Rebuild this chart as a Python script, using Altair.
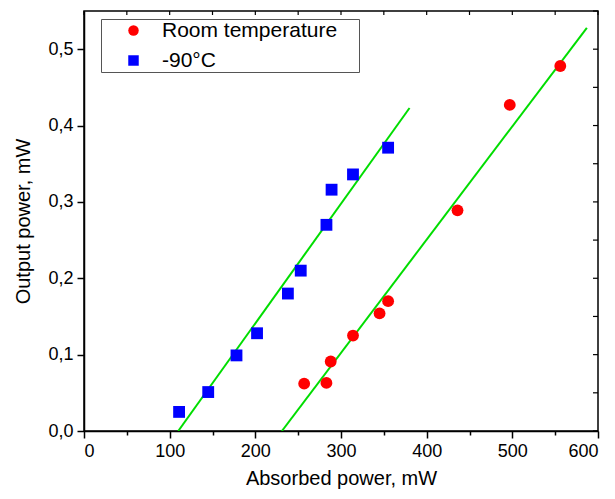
import altair as alt
import pandas as pd

# Room temperature (red circles)
rt_x = [257, 283, 288, 314, 345, 355, 436, 497, 556]
rt_y = [0.062, 0.063, 0.091, 0.125, 0.154, 0.170, 0.289, 0.427, 0.478]

# -90 C (blue squares)
lt_x = [111, 145, 178, 202, 238, 253, 283, 289, 314, 355]
lt_y = [0.025, 0.051, 0.099, 0.128, 0.180, 0.210, 0.270, 0.316, 0.336, 0.371]

# linear fit lines (endpoints)
fit_rt_x = [231, 587]
fit_rt_y = [0.0, 0.528]
fit_lt_x = [110, 380]
fit_lt_y = [0.0, 0.423]

x_ticks = list(range(0, 601, 50))
y_ticks = [0.0, 0.05, 0.1, 0.15, 0.2, 0.25, 0.3, 0.35, 0.4, 0.45, 0.5, 0.55]

s_rt = "Room temperature"
s_lt = "-90\u00b0C"

pts = pd.DataFrame({
    "x": rt_x + lt_x,
    "y": rt_y + lt_y,
    "series": [s_rt] * len(rt_x) + [s_lt] * len(lt_x),
})
fits = pd.DataFrame({
    "x": fit_rt_x + fit_lt_x,
    "y": fit_rt_y + fit_lt_y,
    "fit": ["rt"] * 2 + ["lt"] * 2,
})

W, H = 514, 420
xscale = alt.Scale(domain=[0, 600], nice=False)
yscale = alt.Scale(domain=[0, 0.55], nice=False)

x_axis = alt.Axis(
    values=x_ticks,
    labelExpr="datum.value % 100 === 0 ? datum.label : ''",
    tickSize={"condition": {"test": "datum.value % 100 === 0", "value": 7}, "value": 4},
    grid=False,
    title="Absorbed power, mW",
    titlePadding=8,
)
y_axis = alt.Axis(
    values=y_ticks,
    labelExpr="(round(datum.value*100) % 10 === 0) ? replace(format(datum.value, '.1f'), '.', ',') : ''",
    tickSize={"condition": {"test": "round(datum.value*100) % 10 === 0", "value": 7}, "value": 4},
    grid=False,
    title="Output power, mW",
    titlePadding=14,
)

lines = alt.Chart(fits).mark_line(color="#00dd00", strokeWidth=2, clip=True).encode(
    x=alt.X("x:Q", scale=xscale, axis=x_axis),
    y=alt.Y("y:Q", scale=yscale, axis=y_axis),
    detail="fit:N",
)

points = alt.Chart(pts).mark_point(filled=True, opacity=1, size=140).encode(
    x=alt.X("x:Q", scale=xscale),
    y=alt.Y("y:Q", scale=yscale),
    color=alt.Color("series:N", scale=alt.Scale(domain=[s_rt, s_lt], range=["#ff0000", "#0000ff"]),
                    legend=alt.Legend(title=None, orient="none", legendX=17, legendY=8,
                                      strokeColor="#555555", padding=1, symbolOffset=21,
                                      labelOffset=18, labelFontSize=21, labelFont="Liberation Sans",
                                      labelLimit=400,
                                      labelExpr="datum.label + '\u00a0\u2800'",
                                      symbolSize=110, rowPadding=8, labelColor="black")),
    shape=alt.Shape("series:N", scale=alt.Scale(domain=[s_rt, s_lt], range=["circle", "square"])),
)

top_ticks = alt.Chart(pd.DataFrame({"v": x_ticks})).mark_rule(color="black", strokeWidth=1.2).encode(
    x=alt.X("v:Q", scale=xscale), y=alt.value(0), y2=alt.value(4)
)
right_ticks = alt.Chart(pd.DataFrame({"v": y_ticks})).mark_rule(color="black", strokeWidth=1.2).encode(
    y=alt.Y("v:Q", scale=yscale), x=alt.value(W), x2=alt.value(W - 5)
)

chart = alt.layer(lines, points, top_ticks, right_ticks).properties(
    width=W, height=H,
    autosize=alt.AutoSizeParams(type="none"),
    padding={"left": 76, "top": 3, "right": 9, "bottom": 60},
).configure_view(stroke="black", strokeWidth=1.5).configure_axis(
    labelFont="Liberation Sans", labelFontSize=18, labelColor="black",
    titleFont="Liberation Sans", titleFontSize=20, titleFontWeight="normal", titleColor="black",
    domainColor="black", domainWidth=1.5, tickColor="black", tickWidth=1.5, labelPadding=4,
)

chart.save("out.html", embed_options={"renderer": "svg", "actions": False})
